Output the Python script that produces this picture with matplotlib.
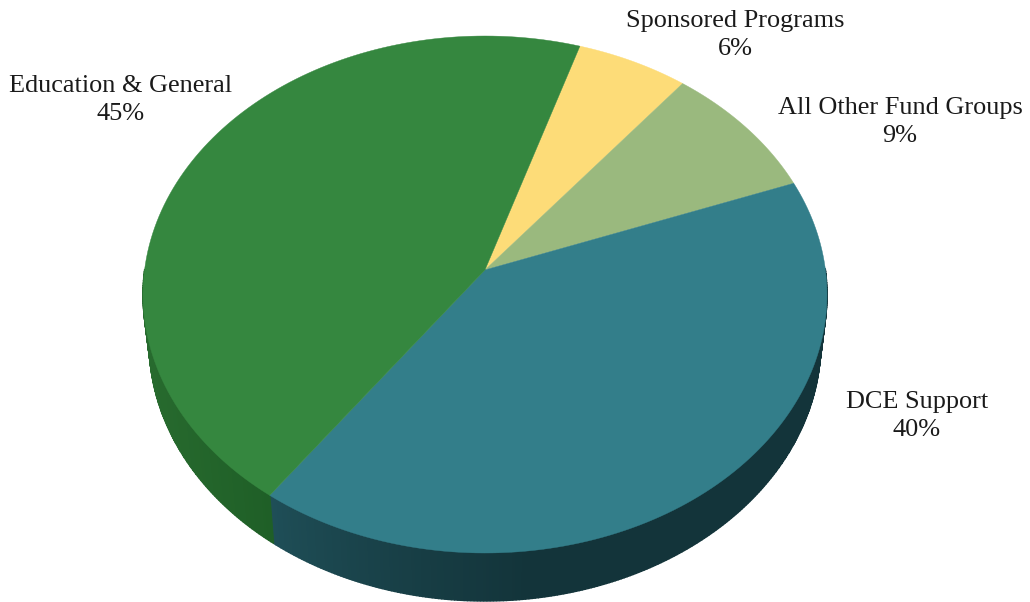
import numpy as np
import matplotlib
matplotlib.use('Agg')
import matplotlib.pyplot as plt

labels = ['Sponsored Programs', 'All Other Fund Groups', 'DCE Support', 'Education & General']
pct_labels = ['6%', '9%', '40%', '45%']
values = [5.8, 8.6, 40.6, 45.0]
colors = ['#fddc78', '#9ab97e', '#337e8a', '#35873f']
rim_light = ['#fddc78', '#9ab97e', '#1f4f58', '#1f5f27']
rim_dark = ['#fddc78', '#9ab97e', '#13343a', '#276a2e']
label_x = [735, 900, 917, 121]
label_y = [35, 122, 416, 100]

start_angle = 72.3
cx, cy = 485.0, 294.5
rx, ry = 342.0, 258.5
depth = 48.0
taper = 0.982
tilt = 0.095  # pie centre sits above the ellipse centre (perspective)


def project(ang):
    # circle angle -> point on the tilted rim
    a = np.radians(ang)
    u0, v0 = np.cos(a), np.sin(a)
    d = 1 + tilt * v0
    u = u0 * np.sqrt(1 - tilt ** 2) / d
    v = (v0 + tilt) / d
    return cx + rx * u, cy - ry * v


fig = plt.figure(figsize=(10.3, 6.02), dpi=100)
ax = fig.add_axes([0, 0, 1, 1])
ax.set_xlim(0, 1030)
ax.set_ylim(602, 0)
ax.axis('off')

bounds = start_angle - np.cumsum([0] + values) * 3.6

# side of the pie, only the front half shows
for i in range(len(values)):
    a0, a1 = bounds[i + 1], bounds[i]
    for a in np.arange(a0, a1, 0.5):
        if np.sin(np.radians(a)) > 0.0 and np.sin(np.radians(a + 0.5)) > 0.0:
            continue
        x, y = project(np.array([a, min(a + 0.5, a1)]))
        c0 = np.array(matplotlib.colors.to_rgb(rim_light[i]))
        c1 = np.array(matplotlib.colors.to_rgb(rim_dark[i]))
        # lighter toward the seam for teal, darker toward the seam for green
        if i == 3:
            t = np.clip((270 - x.mean()) / 120, 0, 1)
        else:
            t = np.clip((x.mean() - 270) / 260, 0, 1) ** 0.8
        c = c0 + (c1 - c0) * t
        xb = cx + (x - cx) * taper
        ax.fill([x[0], x[1], xb[1], xb[0]], [y[0], y[1], y[1] + depth, y[0] + depth],
                color=c, lw=1.0, zorder=1)

# top of the pie
apex_x, apex_y = cx, cy - ry * tilt
for i in range(len(values)):
    x, y = project(np.linspace(bounds[i], bounds[i + 1], 120))
    ax.fill(np.r_[apex_x, x], np.r_[apex_y, y], color=colors[i], lw=0.3, zorder=2)

for i in range(len(labels)):
    ax.text(label_x[i], label_y[i], labels[i] + '\n' + pct_labels[i],
            ha='center', va='center', family='Liberation Serif', fontsize=18.9,
            color='#1a1a1a', linespacing=1.3, zorder=3)

fig.savefig('out.png', dpi=100)
